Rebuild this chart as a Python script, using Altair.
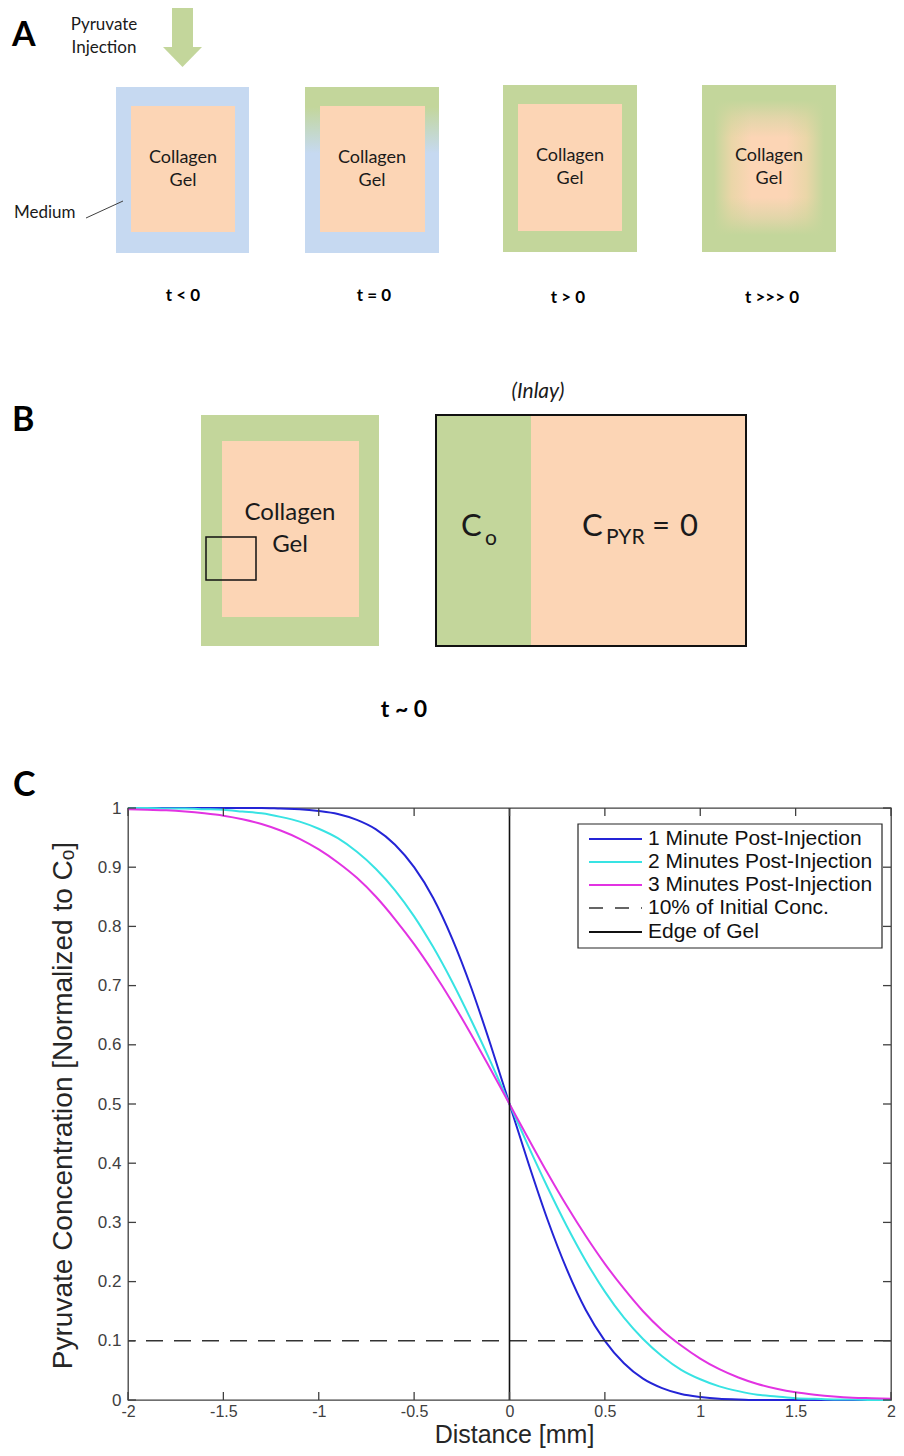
import altair as alt
import pandas as pd

# ---------------- Panel C values ----------------
distance_mm = [-2.0, -1.9, -1.8, -1.7, -1.6, -1.5, -1.4, -1.3, -1.2, -1.1,
               -1.0, -0.9, -0.8, -0.7, -0.6, -0.5, -0.4, -0.3, -0.2, -0.1,
               0.0, 0.1, 0.2, 0.3, 0.4, 0.5, 0.6, 0.7, 0.8, 0.9,
               1.0, 1.1, 1.2, 1.3, 1.4, 1.5, 1.6, 1.7, 1.8, 1.9, 2.0]
conc_1min = [1.000, 1.000, 1.000, 1.000, 1.000, 1.000, 1.000, 1.000, 0.999, 0.998,
             0.995, 0.990, 0.980, 0.964, 0.938, 0.900, 0.848, 0.779, 0.696, 0.601,
             0.500, 0.399, 0.304, 0.221, 0.152, 0.100, 0.062, 0.036, 0.020, 0.010,
             0.005, 0.002, 0.001, 0.000, 0.000, 0.000, 0.000, 0.000, 0.000, 0.000, 0.000]
conc_2min = [1.000, 1.000, 0.999, 0.999, 0.998, 0.997, 0.994, 0.991, 0.985, 0.977,
             0.965, 0.949, 0.926, 0.897, 0.861, 0.817, 0.765, 0.706, 0.641, 0.572,
             0.500, 0.428, 0.359, 0.294, 0.235, 0.183, 0.139, 0.103, 0.074, 0.051,
             0.035, 0.023, 0.015, 0.009, 0.006, 0.003, 0.002, 0.001, 0.001, 0.000, 0.000]
conc_3min = [0.998, 0.997, 0.996, 0.994, 0.991, 0.987, 0.981, 0.973, 0.962, 0.948,
             0.930, 0.908, 0.882, 0.850, 0.812, 0.770, 0.723, 0.672, 0.617, 0.559,
             0.500, 0.441, 0.383, 0.328, 0.277, 0.230, 0.188, 0.150, 0.118, 0.092,
             0.070, 0.052, 0.038, 0.027, 0.019, 0.013, 0.009, 0.006, 0.004, 0.003, 0.002]
series_names = ["1 Minute Post-Injection", "2 Minutes Post-Injection", "3 Minutes Post-Injection"]
legend_labels = series_names + ["10% of Initial Conc.", "Edge of Gel"]
threshold_level = [0.1]
gel_edge_mm = [0.0]
x_ticks = [-2, -1.5, -1, -0.5, 0, 0.5, 1, 1.5, 2]
y_ticks = [0, 0.1, 0.2, 0.3, 0.4, 0.5, 0.6, 0.7, 0.8, 0.9, 1]

# ---------------- Panel A / B texts ----------------
gel_words = ["Collagen", "Gel"]
time_labels_a = ["t < 0", "t = 0", "t > 0", "t >>> 0"]
time_label_b = "t ~ 0"
panel_letters = ["A", "B", "C"]

# ---------------- styles ----------------
BLUE_BG = "#c6d9f1"
PEACH = "#fcd5b5"
GREEN = "#c3d69b"
CURVE_COLORS = ["#2424d6", "#38e3e3", "#e233e2"]
DFONT = "Lato"
PFONT = "Liberation Sans"
PLOT_LEFT, PLOT_TOP = 128, 808
W, H = 763, 592

# page-coordinate scales for the drawn diagrams (plot area spans PLOT_LEFT..PLOT_LEFT+W)
DX = alt.Scale(domain=[PLOT_LEFT, PLOT_LEFT + W], nice=False, zero=False)
DY = alt.Scale(domain=[PLOT_TOP, PLOT_TOP + H], nice=False, zero=False, reverse=True)
XS = alt.Scale(domain=[-2, 2], nice=False, zero=False)
YS = alt.Scale(domain=[0, 1], nice=False, zero=False)


def dxe(f):
    return alt.X(f, type="quantitative", scale=DX, axis=None)


def dye(f):
    return alt.Y(f, type="quantitative", scale=DY, axis=None)


def rects(df, **kw):
    return alt.Chart(df).mark_rect(**kw).encode(
        x=dxe("x1"), x2="x2:Q", y=dye("y1"), y2="y2:Q",
        fill=alt.Fill("c:N", scale=None))


def box(x1, x2, y1, y2):
    return pd.DataFrame({"x1": [x1], "x2": [x2], "y1": [y1], "y2": [y2]})


def texts(df, align, weight="normal", style="normal", font=DFONT, color="#1a1a1a"):
    return alt.Chart(df).mark_text(align=align, baseline="middle", font=font,
                                   fontWeight=weight, fontStyle=style, color=color).encode(
        x=dxe("x"), y=dye("y"), text="t:N",
        size=alt.Size("s:Q", scale=None, legend=None))


# ---------------- Panel C plot ----------------
curve_df = pd.DataFrame({
    "distance": distance_mm * 3,
    "conc": conc_1min + conc_2min + conc_3min,
    "series": [series_names[0]] * len(distance_mm) + [series_names[1]] * len(distance_mm)
              + [series_names[2]] * len(distance_mm),
})

x_axis = alt.Axis(orient="bottom", values=x_ticks, labelExpr="'' + datum.value", ticks=False,
                  domain=False, grid=False, labelFlush=False, labelOverlap=False, labelFont=PFONT,
                  labelFontSize=16, labelColor="#404040", labelPadding=3,
                  title="Distance [mm]", titleFont=PFONT, titleFontSize=25,
                  titleFontWeight="normal", titleColor="#262626",
                  titleX=386, titleY=42, titleAlign="center", titleBaseline="alphabetic")
y_axis = alt.Axis(orient="left", values=y_ticks, labelExpr="'' + datum.value", ticks=False,
                  domain=False, grid=False, labelFlush=False, labelOverlap=False, labelFont=PFONT,
                  labelFontSize=17, labelColor="#404040", labelPadding=7,
                  title="Pyruvate Concentration [Normalized to C\u2092]", titleFont=PFONT,
                  titleFontSize=28, titleFontWeight="normal", titleColor="#262626",
                  titleX=-65, titleY=297, titleAngle=270, titleAlign="center",
                  titleBaseline="middle")

curves = alt.Chart(curve_df).mark_line(strokeWidth=2, interpolate="monotone").encode(
    x=alt.X("distance:Q", scale=XS, axis=x_axis),
    y=alt.Y("conc:Q", scale=YS, axis=y_axis),
    color=alt.Color("series:N", scale=alt.Scale(domain=series_names, range=CURVE_COLORS), legend=None),
)
thresh = alt.Chart(pd.DataFrame({"level": threshold_level})).mark_rule(
    strokeDash=[17, 11], color="#333333", strokeWidth=1.6).encode(
    y=alt.Y("level:Q", scale=YS, axis=None))
edge = alt.Chart(pd.DataFrame({"edge": gel_edge_mm})).mark_rule(
    color="#111111", strokeWidth=1.6).encode(
    x=alt.X("edge:Q", scale=XS, axis=None))

xt = pd.DataFrame({"t": x_ticks})
yt = pd.DataFrame({"t": y_ticks})
TK = dict(color="#404040", strokeWidth=1.3)
ticks_b = alt.Chart(xt).mark_rule(**TK).encode(
    x=alt.X("t:Q", scale=XS, axis=None), y=alt.value(H), y2=alt.value(H - 8))
ticks_t = alt.Chart(xt).mark_rule(**TK).encode(
    x=alt.X("t:Q", scale=XS, axis=None), y=alt.value(0), y2=alt.value(8))
ticks_l = alt.Chart(yt).mark_rule(**TK).encode(
    y=alt.Y("t:Q", scale=YS, axis=None), x=alt.value(0), x2=alt.value(8))
ticks_r = alt.Chart(yt).mark_rule(**TK).encode(
    y=alt.Y("t:Q", scale=YS, axis=None), x=alt.value(W), x2=alt.value(W - 8))

# ---------------- Panels A and B drawing ----------------
bg = rects(pd.DataFrame({
    "x1": [116, 503, 702, 201, 436, 531, 172],
    "x2": [249, 637, 836, 379, 531, 746, 193],
    "y1": [87, 85, 85, 415, 415, 415, 8],
    "y2": [253, 252, 252, 646, 646, 646, 47],
    "c": [BLUE_BG, GREEN, GREEN, GREEN, GREEN, PEACH, GREEN],
}))
grad_lin = alt.LinearGradient(
    gradient="linear", x1=0, y1=0, x2=0, y2=1,
    stops=[alt.GradientStop(offset=0, color=GREEN), alt.GradientStop(offset=0.12, color=GREEN),
           alt.GradientStop(offset=0.26, color="#c4d8c6"), alt.GradientStop(offset=0.40, color=BLUE_BG),
           alt.GradientStop(offset=1, color=BLUE_BG)])
box2_outer = alt.Chart(box(305, 439, 87, 253)).mark_rect(fill=grad_lin).encode(
    x=dxe("x1"), x2="x2:Q", y=dye("y1"), y2="y2:Q")
inner = rects(pd.DataFrame({
    "x1": [131, 320, 518, 222],
    "x2": [235, 425, 622, 359],
    "y1": [106, 106, 104, 441],
    "y2": [232, 232, 231, 617],
    "c": [PEACH, PEACH, PEACH, PEACH],
}))
grad_h = alt.LinearGradient(
    gradient="linear", x1=0, y1=0, x2=1, y2=0,
    stops=[alt.GradientStop(offset=0, color=GREEN), alt.GradientStop(offset=0.16, color="#ead6a8"),
           alt.GradientStop(offset=0.34, color=PEACH), alt.GradientStop(offset=0.66, color=PEACH),
           alt.GradientStop(offset=0.84, color="#ead6a8"), alt.GradientStop(offset=1, color=GREEN)])
grad_v = alt.LinearGradient(
    gradient="linear", x1=0, y1=0, x2=0, y2=1,
    stops=[alt.GradientStop(offset=0, color="rgba(195,214,155,1)"),
           alt.GradientStop(offset=0.13, color="rgba(195,214,155,0.45)"),
           alt.GradientStop(offset=0.28, color="rgba(195,214,155,0)"),
           alt.GradientStop(offset=0.72, color="rgba(195,214,155,0)"),
           alt.GradientStop(offset=0.87, color="rgba(195,214,155,0.45)"),
           alt.GradientStop(offset=1, color="rgba(195,214,155,1)")])
box4_inner_h = alt.Chart(box(714, 824, 100, 235)).mark_rect(fill=grad_h).encode(
    x=dxe("x1"), x2="x2:Q", y=dye("y1"), y2="y2:Q")
box4_inner_v = alt.Chart(box(714, 824, 100, 235)).mark_rect(fill=grad_v).encode(
    x=dxe("x1"), x2="x2:Q", y=dye("y1"), y2="y2:Q")

outline_small = alt.Chart(box(206, 256, 537, 580)).mark_rect(
    filled=False, stroke="#111111", strokeWidth=1.5).encode(x=dxe("x1"), x2="x2:Q", y=dye("y1"), y2="y2:Q")
outline_inlay = alt.Chart(box(436, 746, 415, 646)).mark_rect(
    filled=False, stroke="#111111", strokeWidth=2).encode(x=dxe("x1"), x2="x2:Q", y=dye("y1"), y2="y2:Q")

arrow_head = alt.Chart(pd.DataFrame({"x": [163, 182.5, 202], "y": [47, 47, 47], "y2": [47, 67, 47]})).mark_area(
    color=GREEN).encode(x=dxe("x"), y=dye("y"), y2="y2:Q")
pointer = alt.Chart(pd.DataFrame({"x": [86], "x2": [123], "y": [218], "y2": [201]})).mark_rule(
    color="#404040", strokeWidth=1).encode(x=dxe("x"), x2="x2:Q", y=dye("y"), y2="y2:Q")

center_txt = texts(pd.DataFrame({
    "t": ["Pyruvate", "Injection"] + gel_words * 5,
    "x": [104, 104, 183, 183, 372, 372, 570, 570, 769, 769, 290, 290],
    "y": [25, 48, 158, 181, 158, 181, 156, 179, 156, 179, 513, 545],
    "s": [17, 17, 18, 18, 18, 18, 18, 18, 18, 18, 24, 24],
}), "center")
left_txt = texts(pd.DataFrame({
    "t": ["Medium", "C", "o", "C", "PYR", "=", "0"],
    "x": [14, 461, 485, 582, 606, 652, 680],
    "y": [213, 527, 539, 527, 538, 527, 527],
    "s": [17, 31, 21, 31, 21, 31, 31],
}), "left")
letters = texts(pd.DataFrame({
    "t": panel_letters, "x": [12, 12, 13], "y": [36, 421, 786], "s": [34, 34, 34],
}), "left", weight="bold", color="#000000")
time_txt = texts(pd.DataFrame({
    "t": time_labels_a + [time_label_b],
    "x": [183, 374, 568, 772, 404],
    "y": [296, 296, 298, 298, 710],
    "s": [17, 17, 17, 17, 23],
}), "center", weight="bold", color="#000000")
inlay_txt = texts(pd.DataFrame({"t": ["(Inlay)"], "x": [538], "y": [392], "s": [21]}),
                  "center", style="italic")

# ---------------- Panel C legend ----------------
leg_y = [839, 862, 885, 908, 932]
leg_box = alt.Chart(box(578, 882, 824, 948)).mark_rect(
    fill="white", stroke="#262626", strokeWidth=1.2).encode(x=dxe("x1"), x2="x2:Q", y=dye("y1"), y2="y2:Q")
leg_solid = alt.Chart(pd.DataFrame({
    "x": [589] * 4, "x2": [642] * 4, "y": [leg_y[0], leg_y[1], leg_y[2], leg_y[4]],
    "c": CURVE_COLORS + ["#111111"],
})).mark_rule(strokeWidth=2).encode(x=dxe("x"), x2="x2:Q", y=dye("y"),
                                     color=alt.Color("c:N", scale=None, legend=None))
leg_dash = alt.Chart(pd.DataFrame({"x": [589], "x2": [642], "y": [leg_y[3]]})).mark_rule(
    strokeWidth=1.6, strokeDash=[14, 12], color="#333333").encode(x=dxe("x"), x2="x2:Q", y=dye("y"))
leg_txt = texts(pd.DataFrame({"t": legend_labels, "x": [648] * 5, "y": leg_y, "s": [21] * 5}),
                "left", font=PFONT, color="#111111")

# svg = 888 x 1440 so that the page (8px body margin) fits 904 x 1456 exactly
PAD_L = PLOT_LEFT - 8
PAD_T = PLOT_TOP - 8
chart = alt.layer(
    curves, thresh, edge, ticks_b, ticks_t, ticks_l, ticks_r,
    bg, box2_outer, inner, box4_inner_h, box4_inner_v, outline_small, outline_inlay, arrow_head,
    pointer, center_txt, left_txt, letters, time_txt, inlay_txt,
    leg_box, leg_solid, leg_dash, leg_txt,
).resolve_scale(
    x="independent", y="independent", color="independent"
).resolve_axis(
    x="independent", y="independent"
).properties(
    width=W, height=H,
    autosize=alt.AutoSizeParams(type="none"),
    padding={"left": PAD_L, "top": PAD_T, "right": 888 - PAD_L - W, "bottom": 1440 - PAD_T - H},
).configure_view(stroke="#404040", strokeWidth=1.3)

chart.save("out.html", embed_options={"renderer": "svg", "actions": False})
